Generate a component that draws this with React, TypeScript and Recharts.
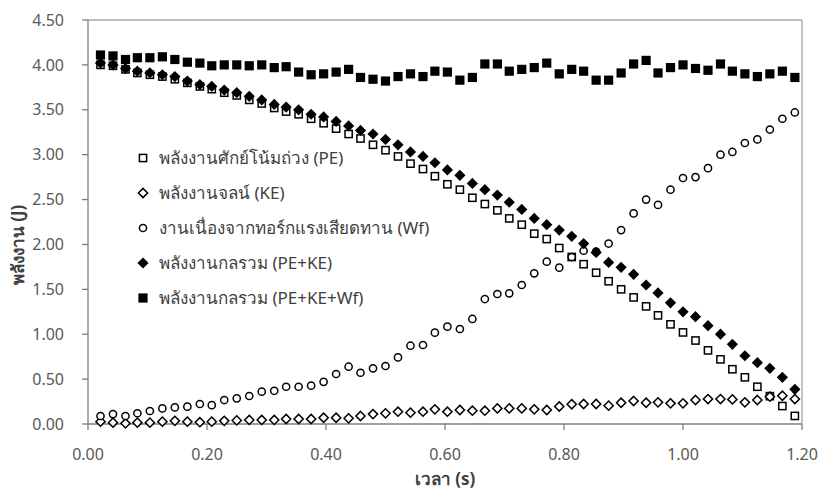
import { ScatterChart, Scatter, XAxis, YAxis, ReferenceLine } from 'recharts';

// time (s), one frame every 1/48 s
const TIME = [
  0.021, 0.042, 0.063, 0.083, 0.104, 0.125, 0.146, 0.167, 0.188, 0.208,
  0.229, 0.25, 0.271, 0.292, 0.313, 0.333, 0.354, 0.375, 0.396, 0.417,
  0.438, 0.458, 0.479, 0.5, 0.521, 0.542, 0.563, 0.583, 0.604, 0.625,
  0.646, 0.667, 0.688, 0.708, 0.729, 0.75, 0.771, 0.792, 0.813, 0.833,
  0.854, 0.875, 0.896, 0.917, 0.938, 0.958, 0.979, 1.0, 1.021, 1.042,
  1.063, 1.083, 1.104, 1.125, 1.146, 1.167, 1.188,
];

const PE = [
  4.0, 3.99, 3.95, 3.91, 3.89, 3.87, 3.84, 3.8, 3.76, 3.73,
  3.69, 3.66, 3.61, 3.57, 3.52, 3.48, 3.45, 3.4, 3.35, 3.29,
  3.23, 3.18, 3.11, 3.05, 2.98, 2.9, 2.84, 2.76, 2.67, 2.61,
  2.52, 2.45, 2.38, 2.29, 2.22, 2.12, 2.06, 1.96, 1.86, 1.78,
  1.685, 1.59, 1.5, 1.41, 1.31, 1.21, 1.11, 1.02, 0.93, 0.82,
  0.72, 0.61, 0.52, 0.415, 0.31, 0.2, 0.09,
];

const KE = [
  0.026, 0.015, 0.007, 0.015, 0.015, 0.026, 0.035, 0.026, 0.02, 0.026,
  0.035, 0.04, 0.045, 0.045, 0.045, 0.056, 0.056, 0.056, 0.07, 0.07,
  0.063, 0.089, 0.11, 0.119, 0.137, 0.126, 0.137, 0.163, 0.137, 0.156,
  0.148, 0.148, 0.174, 0.174, 0.174, 0.163, 0.156, 0.195, 0.22, 0.223,
  0.223, 0.204, 0.237, 0.256, 0.237, 0.241, 0.23, 0.23, 0.267, 0.278,
  0.278, 0.274, 0.241, 0.267, 0.304, 0.315, 0.278,
];

const WF = [
  0.089, 0.11, 0.089, 0.12, 0.145, 0.174, 0.185, 0.193, 0.223, 0.21,
  0.267, 0.286, 0.312, 0.36, 0.37, 0.415, 0.415, 0.427, 0.47, 0.557,
  0.638, 0.571, 0.62, 0.646, 0.742, 0.872, 0.88, 1.017, 1.084, 1.058,
  1.17, 1.392, 1.448, 1.455, 1.548, 1.678, 1.808, 1.741, 1.86, 1.93,
  1.92, 2.01, 2.16, 2.346, 2.5, 2.44, 2.61, 2.74, 2.75, 2.85,
  3.0, 3.03, 3.13, 3.17, 3.28, 3.4, 3.47,
];

const PE_KE = [
  4.02, 4.0, 3.96, 3.93, 3.91, 3.89, 3.87, 3.82, 3.78, 3.76,
  3.72, 3.69, 3.65, 3.61, 3.56, 3.53, 3.5, 3.45, 3.42, 3.37,
  3.32, 3.27, 3.23, 3.17, 3.11, 3.03, 2.98, 2.91, 2.83, 2.77,
  2.68, 2.61, 2.55, 2.47, 2.39, 2.29, 2.22, 2.16, 2.09, 2.01,
  1.91, 1.8, 1.745, 1.667, 1.548, 1.46, 1.35, 1.25, 1.195, 1.095,
  1.0, 0.887, 0.76, 0.683, 0.62, 0.52, 0.386,
];

const TOTAL = [
  4.11, 4.1, 4.06, 4.08, 4.08, 4.09, 4.06, 4.03, 4.02, 3.99,
  4.0, 4.0, 3.99, 4.0, 3.97, 3.98, 3.92, 3.89, 3.9, 3.92,
  3.95, 3.86, 3.84, 3.82, 3.87, 3.9, 3.87, 3.93, 3.92, 3.83,
  3.86, 4.01, 4.01, 3.93, 3.95, 3.97, 4.02, 3.9, 3.95, 3.93,
  3.83, 3.83, 3.91, 4.01, 4.05, 3.91, 3.97, 4.0, 3.96, 3.94,
  4.01, 3.93, 3.9, 3.87, 3.9, 3.93, 3.86,
];

const X_TICKS = [0, 0.2, 0.4, 0.6, 0.8, 1.0, 1.2];
const Y_TICKS = [0, 0.5, 1.0, 1.5, 2.0, 2.5, 3.0, 3.5, 4.0, 4.5];

const LABELS = [
  'พลังงานศักย์โน้มถ่วง (PE)',
  'พลังงานจลน์ (KE)',
  'งานเนื่องจากทอร์กแรงเสียดทาน (Wf)',
  'พลังงานกลรวม (PE+KE)',
  'พลังงานกลรวม (PE+KE+Wf)',
];

const FONT = '"Noto Sans", "DejaVu Sans", sans-serif';
const AXIS = '#7f7f7f';

const toPoints = (ys: number[]) => TIME.map((t, i) => ({ t, v: ys[i] }));

type Kind = 'sqOpen' | 'diaOpen' | 'circle' | 'diaFill' | 'sqFill';

const Marker = ({ kind, cx, cy }: { kind: Kind; cx: number; cy: number }) => {
  switch (kind) {
    case 'sqOpen':
      return <rect x={cx - 3.6} y={cy - 3.6} width={7.2} height={7.2} fill="#fff" stroke="#000" strokeWidth={1.5} />;
    case 'diaOpen':
      return (
        <path d={`M${cx},${cy - 4.6}L${cx + 4.6},${cy}L${cx},${cy + 4.6}L${cx - 4.6},${cy}Z`}
          fill="#fff" stroke="#000" strokeWidth={1.5} />
      );
    case 'circle':
      return <circle cx={cx} cy={cy} r={3.6} fill="#fff" stroke="#000" strokeWidth={1.5} />;
    case 'diaFill':
      return <path d={`M${cx},${cy - 5.6}L${cx + 5.6},${cy}L${cx},${cy + 5.6}L${cx - 5.6},${cy}Z`} fill="#000" />;
    default:
      return <rect x={cx - 4.6} y={cy - 4.6} width={9.2} height={9.2} fill="#000" />;
  }
};

const KINDS: Kind[] = ['sqOpen', 'diaOpen', 'circle', 'diaFill', 'sqFill'];

// legend sits inside the plot area, like the original
const LegendBox = () => (
  <div style={{ position: 'absolute', left: 134, top: 140, fontFamily: FONT, fontSize: 17, color: '#404040' }}>
    {LABELS.map((label, i) => (
      <div key={label} style={{ display: 'flex', alignItems: 'center', height: 35, whiteSpace: 'nowrap' }}>
        <svg width={20} height={14} style={{ marginRight: 5 }}>
          <Marker kind={KINDS[i]} cx={9} cy={7} />
        </svg>
        <span>{label}</span>
      </div>
    ))}
  </div>
);

const shape = (kind: Kind) => (p: any) => <Marker kind={kind} cx={p.cx} cy={p.cy} />;

export default function App() {
  return (
    <div style={{ position: 'absolute', left: 0, top: 0, width: 819, height: 493, background: '#fff' }}>
      <ScatterChart width={819} height={493} margin={{ top: 20, right: 17, bottom: 0, left: 0 }}>
        <XAxis
          type="number"
          dataKey="t"
          domain={[0, 1.2]}
          ticks={X_TICKS}
          tickFormatter={(v: number) => v.toFixed(2)}
          axisLine={{ stroke: AXIS, strokeWidth: 1.3 }}
          tickLine={{ stroke: AXIS, strokeWidth: 1.3 }}
          tickSize={6}
          tickMargin={19}
          tick={{ fill: '#595959', fontSize: 16, fontFamily: FONT }}
          height={69}
          label={{
            content: () => (
              <text x={445} y={485} textAnchor="middle" fontFamily={FONT} fontSize={17} fontWeight="bold" fill="#404040">
                เวลา (s)
              </text>
            ),
          }}
        />
        <YAxis
          type="number"
          dataKey="v"
          domain={[0, 4.5]}
          ticks={Y_TICKS}
          tickFormatter={(v: number) => v.toFixed(2)}
          axisLine={{ stroke: AXIS, strokeWidth: 1.3 }}
          tickLine={{ stroke: AXIS, strokeWidth: 1.3 }}
          tickSize={6}
          tickMargin={18}
          tick={{ fill: '#595959', fontSize: 16, fontFamily: FONT }}
          width={88}
          label={{
            content: () => (
              <text x={24} y={245} transform="rotate(-90 24 245)" textAnchor="middle" fontFamily={FONT}
                fontSize={17} fontWeight="bold" fill="#404040">
                พลังงาน (J)
              </text>
            ),
          }}
        />
        <ReferenceLine y={4.5} stroke="#a6a6a6" strokeWidth={1.3} />
        <ReferenceLine x={1.2} stroke="#a6a6a6" strokeWidth={1.3} />
        <Scatter data={toPoints(PE)} shape={shape('sqOpen')} isAnimationActive={false} />
        <Scatter data={toPoints(KE)} shape={shape('diaOpen')} isAnimationActive={false} />
        <Scatter data={toPoints(WF)} shape={shape('circle')} isAnimationActive={false} />
        <Scatter data={toPoints(PE_KE)} shape={shape('diaFill')} isAnimationActive={false} />
        <Scatter data={toPoints(TOTAL)} shape={shape('sqFill')} isAnimationActive={false} />
      </ScatterChart>
      <LegendBox />
    </div>
  );
}
